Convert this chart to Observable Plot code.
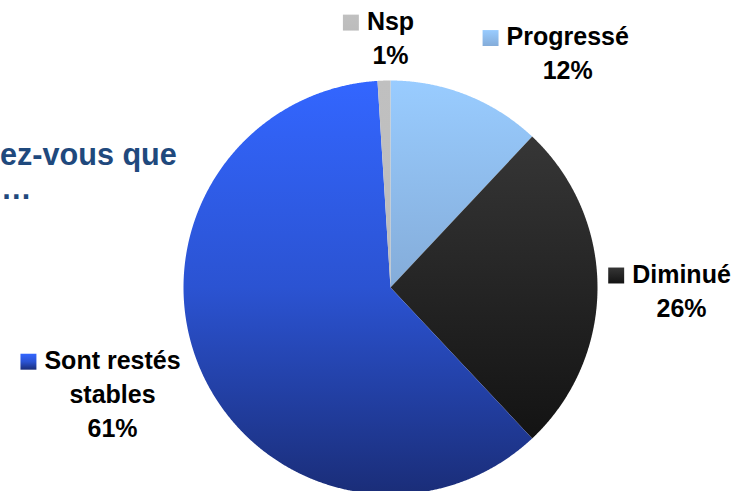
<!DOCTYPE html>
<html>
<head>
<meta charset="utf-8">
<script src="https://cdn.jsdelivr.net/npm/d3@7"></script>
<script src="https://cdn.jsdelivr.net/npm/@observablehq/plot@0.6"></script>
<style>
  body { margin: 0; background: #fff; overflow: hidden; }
  svg { display: block; }
</style>
</head>
<body>
<div id="chart"></div>
<script>
// ---- data ----
const categories = ["Progressé", "Diminué", "Sont restés stables", "Nsp"];
const values = [12, 26, 61, 1];
const nameLines = [["Progressé"], ["Diminué"], ["Sont restés", "stables"], ["Nsp"]];
const percentLabels = ["12%", "26%", "61%", "1%"];
const titleLines = ["ez-vous que", "…"];

// ---- layout & style ----
const W = 738, H = 491;
const cx = 390, cy = 287, R = 207;          // pie placement (px)
const FONT = "'Liberation Sans', Arial, Helvetica, sans-serif";
const FS = 25, LH = 34;                      // label font size / line step (px)
const gradientStops = {
  "Progressé": [[0, "#99ccff"], [1, "#84acd9"]],
  "Diminué": [[0, "#363636"], [1, "#131313"]],
  "Sont restés stables": [[0, "#3366ff"], [0.5, "#2b53d2"], [1, "#1a2d78"]],
  "Nsp": [[0, "#c0c0c0"], [1, "#bcbcbc"]]
};
// label offset (px) from the slice's rim mid-point to the first-line baseline centre
const labelOffsets = {
  "Progressé": [101, -50],
  "Diminué": [84, -5],
  "Sont restés stables": [-88, -1],
  "Nsp": [6.5, -51]
};
const gid = c => "g" + categories.indexOf(c);

// ---- derived geometry (data space: pie centred at 0,0 with radius 1) ----
const table = categories.map((c, i) => ({cat: c, value: values[i], names: nameLines[i], pct: percentLabels[i]}));
const arcs = d3.pie().sort(null).value(d => d.value)(table);

const slicePts = [];
arcs.forEach(a => {
  const fill = `url(#${gid(a.data.cat)})`;
  slicePts.push({cat: a.data.cat, fill, x: 0, y: 0});
  const n = Math.max(2, Math.ceil((a.endAngle - a.startAngle) / (Math.PI / 720)));
  for (let k = 0; k <= n; k++) {
    const t = a.startAngle + (a.endAngle - a.startAngle) * k / n;
    slicePts.push({cat: a.data.cat, fill, x: Math.sin(t), y: Math.cos(t)});
  }
  slicePts.push({cat: a.data.cat, fill, x: 0, y: 0});
});

const ctx = document.createElement("canvas").getContext("2d");
ctx.font = `bold ${FS}px ${FONT}`;

const textRows = [], swatches = [];
arcs.forEach(a => {
  const m = (a.startAngle + a.endAngle) / 2;
  const [ox, oy] = labelOffsets[a.data.cat];
  const lx = Math.sin(m) + ox / R, ly = Math.cos(m) - oy / R;
  const lines = [...a.data.names, a.data.pct];
  lines.forEach((t, i) => textRows.push({text: t, x: lx, y: ly - i * LH / R}));
  const w0 = ctx.measureText(a.data.names[0]).width;
  swatches.push({cat: a.data.cat, fill: `url(#${gid(a.data.cat)})`, x: lx - (w0 / 2 + 8 + 8) / R, y: ly + 7 / R});
});

// defs (gradients) + partially hidden title, drawn beneath the pie
function background() {
  const g = d3.create("svg:g");
  const defs = g.append("defs");
  categories.forEach(c => {
    const lg = defs.append("linearGradient").attr("id", gid(c))
      .attr("x1", 0).attr("y1", 0).attr("x2", 0).attr("y2", 1);
    gradientStops[c].forEach(([o, col]) => lg.append("stop").attr("offset", o).attr("stop-color", col));
  });
  const tg = g.append("g").attr("font-family", FONT).attr("font-weight", "bold")
    .attr("font-size", 30.6).attr("fill", "#1f497d").attr("text-anchor", "start");
  tg.append("text").attr("x", 0).attr("y", 165).text(titleLines[0]);
  tg.append("text").attr("x", 1).attr("y", 199).text(titleLines[1]);
  return g.node();
}

const chart = Plot.plot({
  width: W, height: H,
  margin: 0,
  style: {background: "transparent", overflow: "hidden"},
  x: {domain: [(0 - cx) / R, (W - cx) / R], range: [0, W], axis: null},
  y: {domain: [(cy - H) / R, cy / R], range: [H, 0], axis: null},
  color: {type: "identity"},
  marks: [
    background,
    Plot.line(slicePts, {x: "x", y: "y", z: "cat", fill: "fill", stroke: "none", curve: "linear"}),
    Plot.dot(swatches, {x: "x", y: "y", symbol: "square", r: 9, fill: "fill", stroke: "none"}),
    Plot.text(textRows, {x: "x", y: "y", text: "text", textAnchor: "middle", lineAnchor: "bottom",
      fontSize: FS, fontWeight: "bold", fontFamily: FONT, fill: "#000"})
  ]
});
document.getElementById("chart").appendChild(chart);
</script>
</body>
</html>
